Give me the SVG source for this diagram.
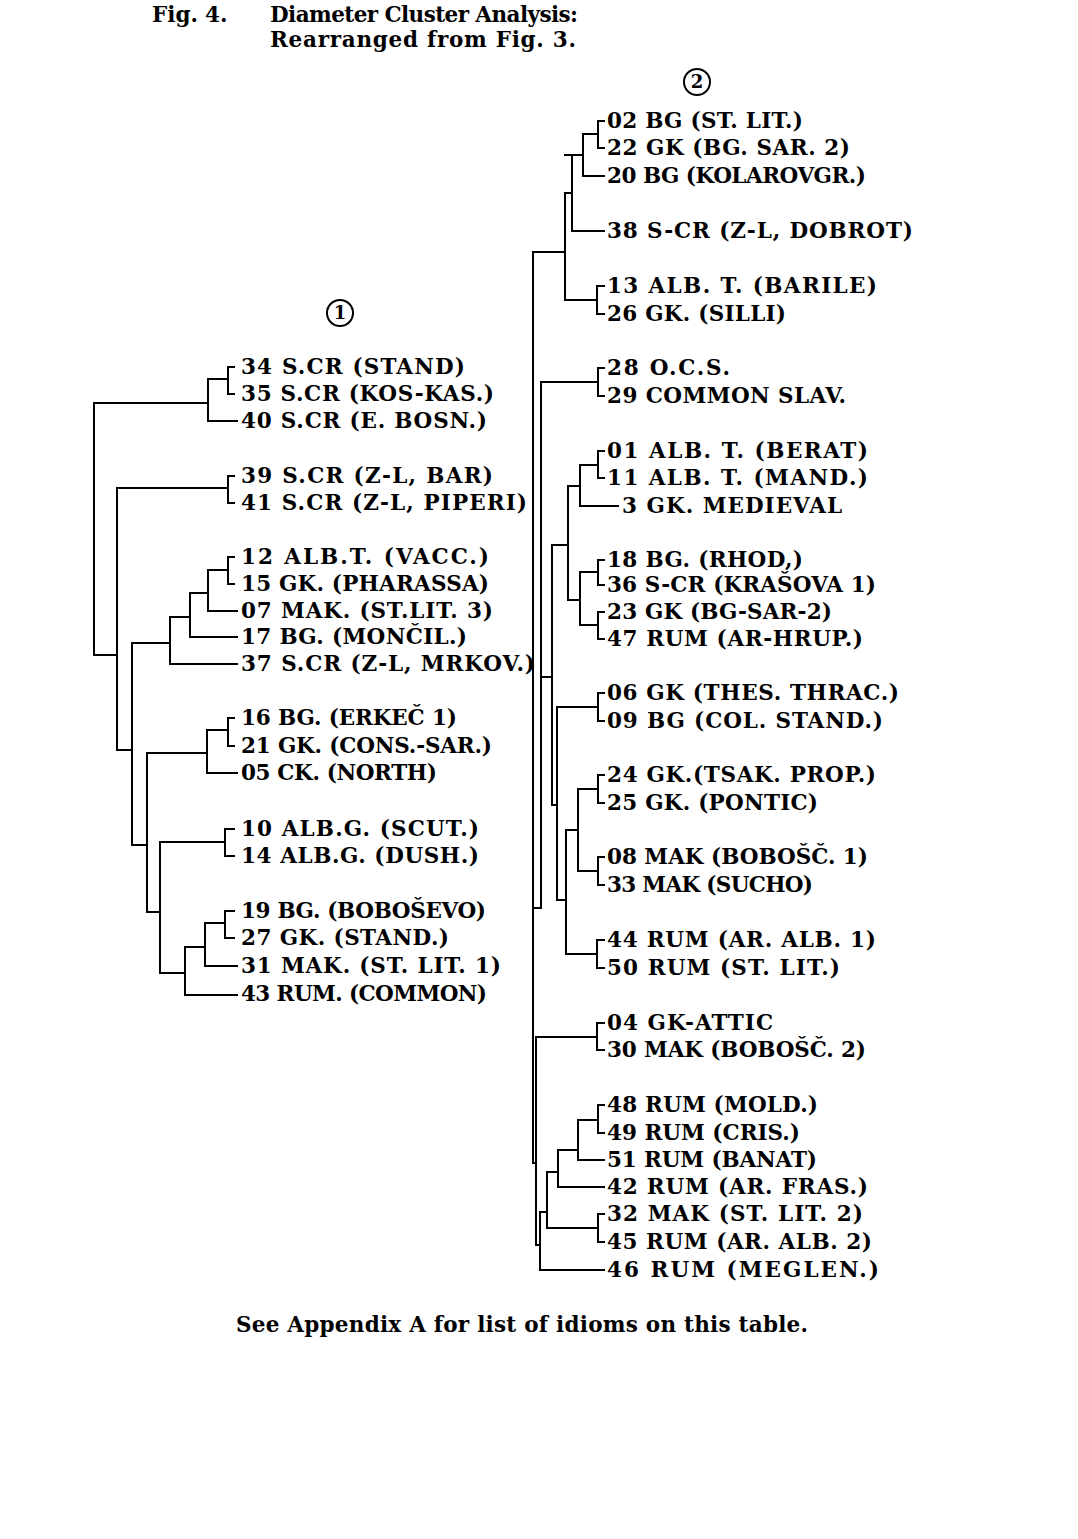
<svg xmlns="http://www.w3.org/2000/svg" width="1078" height="1539" viewBox="0 0 1078 1539">
  <style>
    .t { font-family: "DejaVu Serif", "Liberation Serif", serif; font-weight: bold; font-size: 21.5px; fill: #000; }
    .c { font-family: "DejaVu Serif", "Liberation Serif", serif; font-weight: bold; font-size: 18px; fill: #000; text-anchor: middle; }
    .ln { fill: none; stroke: #000; stroke-width: 2; stroke-linecap: square; stroke-linejoin: miter; }
  </style>
  <rect width="1078" height="1539" fill="#fff"/>

  <!-- caption -->
  <g id="title">
    <text class="t" x="152" y="22">Fig.</text>
    <text class="t" x="205" y="22">4.</text>
    <text class="t" x="270" y="22" textLength="308" lengthAdjust="spacing">Diameter Cluster Analysis:</text>
    <text class="t" x="270" y="47" textLength="306" lengthAdjust="spacing">Rearranged from Fig. 3.</text>
  </g>

  <!-- cluster markers -->
  <g id="cluster-1">
    <circle cx="340" cy="313" r="13" fill="none" stroke="#000" stroke-width="2"/>
    <text class="c" x="340" y="319">1</text>
  </g>
  <g id="cluster-2">
    <circle cx="697" cy="82" r="13" fill="none" stroke="#000" stroke-width="2"/>
    <text class="c" x="697" y="88">2</text>
  </g>

  <!-- dendrogram branches -->
  <g id="connectors" class="ln">
    <!-- cluster 1 -->
    <path d="M234,367 H228 V394 H234"/>
    <path d="M208,379 H228 M208,379 V421 H237"/>
    <path d="M94,403 H208 M94,403 V655 H117"/>
    <path d="M234,476 H228 V503 H234"/>
    <path d="M117,488 H228 M117,488 V750 H132"/>
    <path d="M234,557 H228 V584 H234"/>
    <path d="M208,570 H228 M208,570 V611 H237"/>
    <path d="M190,593 H208 M190,593 V637 H237"/>
    <path d="M170,617 H190 M170,617 V664 H237"/>
    <path d="M132,643 H170 M132,643 V845 H147"/>
    <path d="M234,718 H228 V746 H234"/>
    <path d="M207,730 H228 M207,730 V773 H237"/>
    <path d="M147,753 H207 M147,753 V912 H160"/>
    <path d="M234,829 H225 V856 H234"/>
    <path d="M160,842 H225 M160,842 V973 H185"/>
    <path d="M234,911 H225 V938 H234"/>
    <path d="M205,923 H225 M205,923 V966 H237"/>
    <path d="M185,947 H205 M185,947 V995 H237"/>

    <!-- cluster 2 -->
    <path d="M604,121 H598 V148 H604"/>
    <path d="M583,134 H598 M583,134 V176 H604"/>
    <path d="M565,155 H583 M572,155 V231 H604"/>
    <path d="M565,193 H572 M565,193 V300 H597"/>
    <path d="M604,286 H597 V314 H604"/>
    <path d="M533,252 H565 M533,252 V1163"/>
    <path d="M604,368 H598 V396 H604"/>
    <path d="M541,382 H598 M541,382 V908 H533"/>
    <path d="M604,451 H598 V478 H604"/>
    <path d="M580,465 H598 M580,465 V506 H618"/>
    <path d="M604,560 H598 V585 H604"/>
    <path d="M604,612 H598 V639 H604"/>
    <path d="M580,572 H598 M580,572 V625 H598"/>
    <path d="M568,486 H580 M568,486 V600 H580"/>
    <path d="M552,545 H568 M552,545 V805 H557"/>
    <path d="M541,677 H552"/>
    <path d="M604,693 H598 V721 H604"/>
    <path d="M557,707 H598 M557,707 V900 H566"/>
    <path d="M604,775 H598 V803 H604"/>
    <path d="M604,857 H598 V885 H604"/>
    <path d="M578,789 H598 M578,789 V871 H598"/>
    <path d="M566,830 H578 M566,830 V954 H597"/>
    <path d="M604,940 H597 V968 H604"/>
    <path d="M604,1023 H597 V1050 H604"/>
    <path d="M536,1037 H597 M536,1037 V1245 H540 M533,1163 H536"/>
    <path d="M604,1105 H598 V1133 H604"/>
    <path d="M578,1120 H598 M578,1120 V1160 H604"/>
    <path d="M558,1150 H578 M558,1150 V1187 H604"/>
    <path d="M604,1214 H598 V1242 H604"/>
    <path d="M547,1172 H558 M547,1172 V1228 H598"/>
    <path d="M540,1212 H547 M540,1212 V1270 H604"/>
  </g>

  <!-- cluster 1 leaves -->
  <g id="n34"><text class="t" x="241" y="374" textLength="224" lengthAdjust="spacing">34 S.CR (STAND)</text></g>
  <g id="n35"><text class="t" x="241" y="401" textLength="253" lengthAdjust="spacing">35 S.CR (KOS-KAS.)</text></g>
  <g id="n40"><text class="t" x="241" y="428" textLength="246" lengthAdjust="spacing">40 S.CR (E. BOSN.)</text></g>
  <g id="n39"><text class="t" x="241" y="483" textLength="252" lengthAdjust="spacing">39 S.CR (Z-L, BAR)</text></g>
  <g id="n41"><text class="t" x="241" y="510" textLength="286" lengthAdjust="spacing">41 S.CR (Z-L, PIPERI)</text></g>
  <g id="n12"><text class="t" x="241" y="564" textLength="248" lengthAdjust="spacing">12 ALB.T. (VACC.)</text></g>
  <g id="n15"><text class="t" x="241" y="591" textLength="248" lengthAdjust="spacing">15 GK. (PHARASSA)</text></g>
  <g id="n07"><text class="t" x="241" y="618" textLength="252" lengthAdjust="spacing">07 MAK. (ST.LIT. 3)</text></g>
  <g id="n17"><text class="t" x="241" y="644" textLength="226" lengthAdjust="spacing">17 BG. (MONČIL.)</text></g>
  <g id="n37"><text class="t" x="241" y="671" textLength="294" lengthAdjust="spacing">37 S.CR (Z-L, MRKOV.)</text></g>
  <g id="n16"><text class="t" x="241" y="725" textLength="216" lengthAdjust="spacing">16 BG. (ERKEČ 1)</text></g>
  <g id="n21"><text class="t" x="241" y="753" textLength="251" lengthAdjust="spacing">21 GK. (CONS.-SAR.)</text></g>
  <g id="n05"><text class="t" x="241" y="780" textLength="196" lengthAdjust="spacing">05 CK. (NORTH)</text></g>
  <g id="n10"><text class="t" x="241" y="836" textLength="238" lengthAdjust="spacing">10 ALB.G. (SCUT.)</text></g>
  <g id="n14"><text class="t" x="241" y="863" textLength="238" lengthAdjust="spacing">14 ALB.G. (DUSH.)</text></g>
  <g id="n19"><text class="t" x="241" y="918" textLength="245" lengthAdjust="spacing">19 BG. (BOBOŠEVO)</text></g>
  <g id="n27"><text class="t" x="241" y="945" textLength="208" lengthAdjust="spacing">27 GK. (STAND.)</text></g>
  <g id="n31"><text class="t" x="241" y="973" textLength="260" lengthAdjust="spacing">31 MAK. (ST. LIT. 1)</text></g>
  <g id="n43"><text class="t" x="241" y="1001" textLength="246" lengthAdjust="spacing">43 RUM. (COMMON)</text></g>

  <!-- cluster 2 leaves -->
  <g id="n02"><text class="t" x="607" y="128" textLength="196" lengthAdjust="spacing">02 BG (ST. LIT.)</text></g>
  <g id="n22"><text class="t" x="607" y="155" textLength="243" lengthAdjust="spacing">22 GK (BG. SAR. 2)</text></g>
  <g id="n20"><text class="t" x="607" y="183" textLength="259" lengthAdjust="spacing">20 BG (KOLAROVGR.)</text></g>
  <g id="n38"><text class="t" x="607" y="238" textLength="306" lengthAdjust="spacing">38 S-CR (Z-L, DOBROT)</text></g>
  <g id="n13"><text class="t" x="607" y="293" textLength="270" lengthAdjust="spacing">13 ALB. T. (BARILE)</text></g>
  <g id="n26"><text class="t" x="607" y="321" textLength="179" lengthAdjust="spacing">26 GK. (SILLI)</text></g>
  <g id="n28"><text class="t" x="607" y="375" textLength="123" lengthAdjust="spacing">28 O.C.S.</text></g>
  <g id="n29"><text class="t" x="607" y="403" textLength="239" lengthAdjust="spacing">29 COMMON SLAV.</text></g>
  <g id="n01"><text class="t" x="607" y="458" textLength="261" lengthAdjust="spacing">01 ALB. T. (BERAT)</text></g>
  <g id="n11"><text class="t" x="607" y="485" textLength="261" lengthAdjust="spacing">11 ALB. T. (MAND.)</text></g>
  <g id="n3"><text class="t" x="622" y="513" textLength="220" lengthAdjust="spacing">3 GK. MEDIEVAL</text></g>
  <g id="n18"><text class="t" x="607" y="567" textLength="196" lengthAdjust="spacing">18 BG. (RHOD,)</text></g>
  <g id="n36"><text class="t" x="607" y="592" textLength="269" lengthAdjust="spacing">36 S-CR (KRAŠOVA 1)</text></g>
  <g id="n23"><text class="t" x="607" y="619" textLength="225" lengthAdjust="spacing">23 GK (BG-SAR-2)</text></g>
  <g id="n47"><text class="t" x="607" y="646" textLength="256" lengthAdjust="spacing">47 RUM (AR-HRUP.)</text></g>
  <g id="n06"><text class="t" x="607" y="700" textLength="292" lengthAdjust="spacing">06 GK (THES. THRAC.)</text></g>
  <g id="n09"><text class="t" x="607" y="728" textLength="276" lengthAdjust="spacing">09 BG (COL. STAND.)</text></g>
  <g id="n24"><text class="t" x="607" y="782" textLength="269" lengthAdjust="spacing">24 GK.(TSAK. PROP.)</text></g>
  <g id="n25"><text class="t" x="607" y="810" textLength="211" lengthAdjust="spacing">25 GK. (PONTIC)</text></g>
  <g id="n08"><text class="t" x="607" y="864" textLength="261" lengthAdjust="spacing">08 MAK (BOBOŠČ. 1)</text></g>
  <g id="n33"><text class="t" x="607" y="892" textLength="206" lengthAdjust="spacing">33 MAK (SUCHO)</text></g>
  <g id="n44"><text class="t" x="607" y="947" textLength="269" lengthAdjust="spacing">44 RUM (AR. ALB. 1)</text></g>
  <g id="n50"><text class="t" x="607" y="975" textLength="233" lengthAdjust="spacing">50 RUM (ST. LIT.)</text></g>
  <g id="n04"><text class="t" x="607" y="1030" textLength="166" lengthAdjust="spacing">04 GK-ATTIC</text></g>
  <g id="n30"><text class="t" x="607" y="1057" textLength="259" lengthAdjust="spacing">30 MAK (BOBOŠČ. 2)</text></g>
  <g id="n48"><text class="t" x="607" y="1112" textLength="211" lengthAdjust="spacing">48 RUM (MOLD.)</text></g>
  <g id="n49"><text class="t" x="607" y="1140" textLength="193" lengthAdjust="spacing">49 RUM (CRIS.)</text></g>
  <g id="n51"><text class="t" x="607" y="1167" textLength="210" lengthAdjust="spacing">51 RUM (BANAT)</text></g>
  <g id="n42"><text class="t" x="607" y="1194" textLength="261" lengthAdjust="spacing">42 RUM (AR. FRAS.)</text></g>
  <g id="n32"><text class="t" x="607" y="1221" textLength="256" lengthAdjust="spacing">32 MAK (ST. LIT. 2)</text></g>
  <g id="n45"><text class="t" x="607" y="1249" textLength="265" lengthAdjust="spacing">45 RUM (AR. ALB. 2)</text></g>
  <g id="n46"><text class="t" x="607" y="1277" textLength="272" lengthAdjust="spacing">46 RUM (MEGLEN.)</text></g>

  <!-- footnote -->
  <g id="note">
    <text class="t" x="236" y="1332" textLength="572" lengthAdjust="spacing">See Appendix A for list of idioms on this table.</text>
  </g>
</svg>
